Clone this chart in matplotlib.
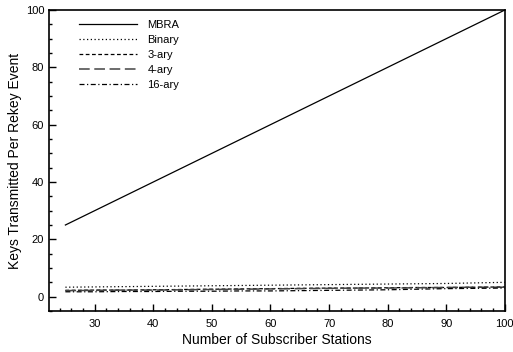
import matplotlib
matplotlib.use("Agg")
import matplotlib.pyplot as plt
from matplotlib.ticker import MultipleLocator

plt.rcParams['font.family'] = ['Liberation Sans', 'DejaVu Sans']

# subscriber stations
stations = [25, 30, 35, 40, 45, 50, 55, 60, 65, 70, 75, 80, 85, 90, 95, 100]

# keys transmitted per rekey event
mbra = [25, 30, 35, 40, 45, 50, 55, 60, 65, 70, 75, 80, 85, 90, 95, 100]
binary = [3.3, 3.4, 3.5, 3.6, 3.7, 3.8, 3.9, 4.0, 4.1, 4.2, 4.3, 4.4, 4.5, 4.6, 4.8, 5.0]
ary3 = [2.2, 2.3, 2.3, 2.4, 2.5, 2.6, 2.7, 2.8, 2.9, 3.0, 3.0, 3.1, 3.2, 3.2, 3.3, 3.4]
ary4 = [2.1, 2.2, 2.3, 2.3, 2.4, 2.5, 2.6, 2.7, 2.8, 2.9, 3.0, 3.0, 3.1, 3.2, 3.3, 3.3]
ary16 = [1.7, 1.7, 1.8, 1.8, 1.9, 1.9, 2.0, 2.0, 2.1, 2.2, 2.3, 2.4, 2.6, 2.8, 2.9, 3.0]

fig = plt.figure(figsize=(5.13, 3.52), dpi=100)
ax = fig.add_axes([0.0955, 0.1165, 0.8885, 0.855])

ax.plot(stations, mbra, color='black', lw=0.9, ls='-', label='MBRA')
ax.plot(stations, binary, color='black', lw=0.9, ls=(0, (1, 2)), label='Binary')
ax.plot(stations, ary3, color='black', lw=0.9, ls=(0, (3, 2)), label='3-ary')
ax.plot(stations, ary4, color='#444444', lw=1.1, ls=(0, (7, 3)), label='4-ary')
ax.plot(stations, ary16, color='black', lw=0.9, ls=(0, (4, 2, 1, 2)), label='16-ary')

ax.set_xlim(22.2, 100)
ax.set_ylim(-5, 100)
ax.xaxis.set_major_locator(MultipleLocator(10))
ax.xaxis.set_minor_locator(MultipleLocator(2))
ax.yaxis.set_major_locator(MultipleLocator(20))
ax.yaxis.set_minor_locator(MultipleLocator(5))
ax.tick_params(which='both', direction='in', top=False, right=False, labelsize=8, width=1)
ax.tick_params(which='major', length=5)
ax.tick_params(which='minor', length=2.5)
ax.tick_params(axis='x', which='major', pad=6)
for s in ax.spines.values():
    s.set_linewidth(1.2)

ax.set_xlabel("Number of Subscriber Stations", fontsize=10, labelpad=3)
ax.set_ylabel("Keys Transmitted Per Rekey Event", fontsize=10, labelpad=2.5)

ax.legend(loc='upper left', bbox_to_anchor=(0.043, 1.0), frameon=False, fontsize=8,
          handlelength=5.3, handletextpad=0.9, labelspacing=0.45)

fig.savefig("out.png", dpi=100)
